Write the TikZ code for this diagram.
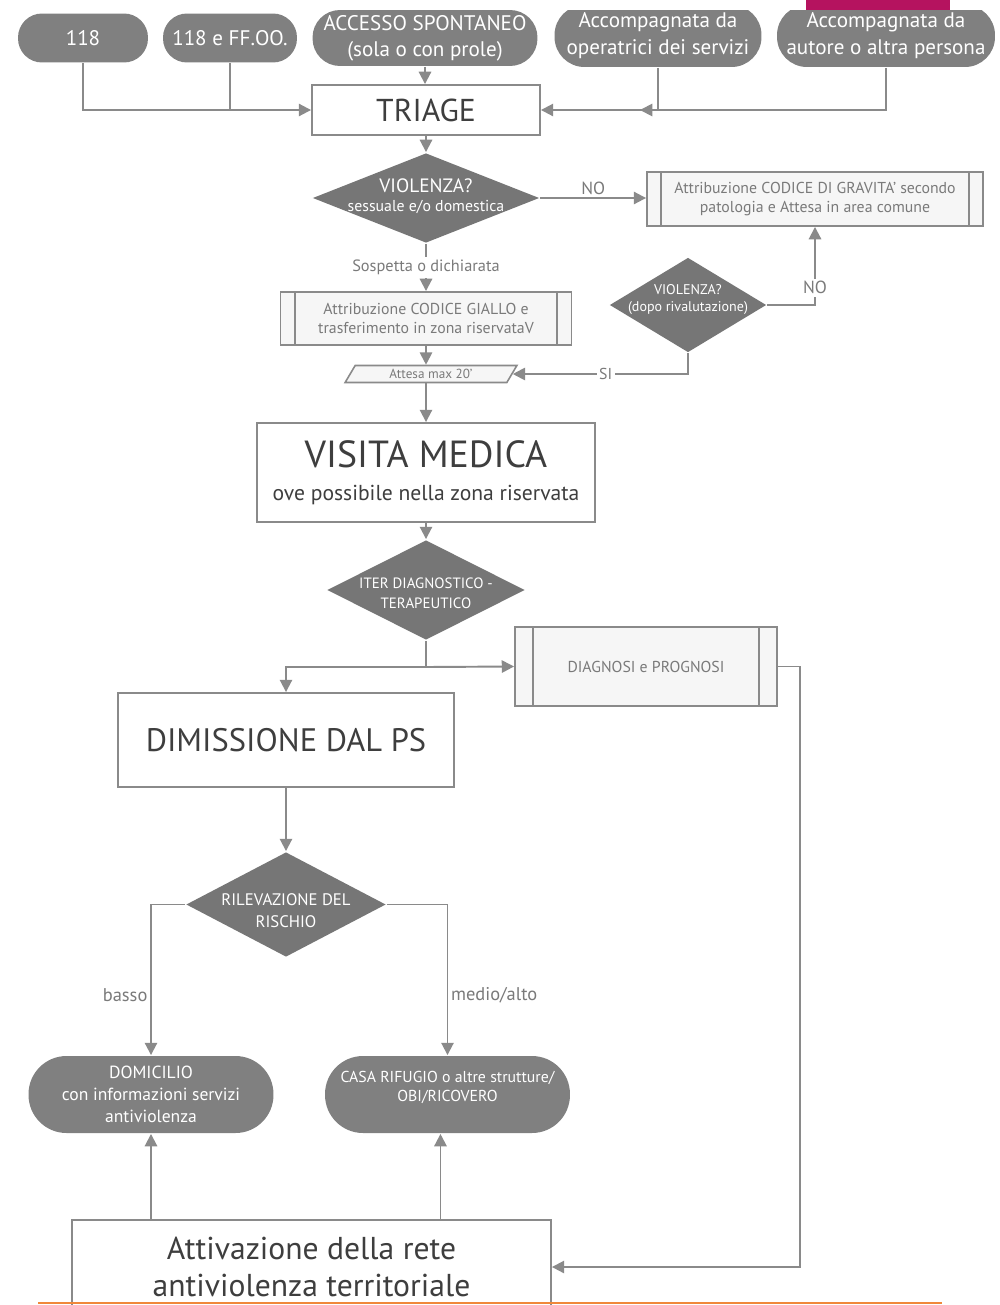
\documentclass[tikz,border=0pt]{standalone}
\usepackage{fontspec}
\setmainfont{PT Sans}
\usetikzlibrary{arrows.meta}
\usetikzlibrary{shapes.geometric}
\definecolor{lineGray}{RGB}{138,138,138}
\definecolor{pillGray}{RGB}{128,128,128}
\definecolor{decGray}{RGB}{118,118,118}
\definecolor{darkText}{RGB}{62,62,62}
\definecolor{softText}{RGB}{122,122,122}
\definecolor{boxFill}{RGB}{246,246,246}
\definecolor{barMagenta}{RGB}{181,19,95}
\definecolor{lineOrange}{RGB}{240,136,58}
\tikzset{every picture/.style={line width=1.1pt, color=lineGray, >={Triangle[length=7pt,width=7pt]}}}
\tikzstyle{block}=[draw=lineGray,fill=white,text=darkText,align=center,inner sep=0pt]
\tikzstyle{decision}=[diamond,fill=decGray,inner sep=0pt]
\tikzstyle{dectext}=[text=white,align=center]
\tikzstyle{lbl}=[text=softText,inner sep=1.5pt]
\tikzstyle{io}=[trapezium,trapezium left angle=60,trapezium right angle=120,trapezium stretches=true,draw=lineGray,line width=0.9pt,fill=boxFill,text=softText,inner sep=0pt]
\tikzset{pill/.style={rectangle,rounded corners=#1,fill=pillGray,text=white,align=center,inner sep=0pt},
  pill/.default=0.48cm}
\tikzset{subproc/.style={draw=lineGray,fill=boxFill,text=softText,align=center,inner sep=0pt,
  path picture={\draw[lineGray] ([xshift=#1]path picture bounding box.north west) -- ([xshift=#1]path picture bounding box.south west)
    ([xshift=-#1]path picture bounding box.north east) -- ([xshift=-#1]path picture bounding box.south east);}},
  subproc/.default=8pt}

\begin{document}
\begin{tikzpicture}[x=0.02cm,y=-0.02cm]
        \fill[white] (0,0) rectangle (1000,1305);
        \path[use as bounding box,clip] (0,0) rectangle (1000,1305);
        \fill[barMagenta] (806,0) rectangle (950,12);

        \node [pill,minimum width=2.6cm,minimum height=0.98cm,font=\fontsize{12}{14}\selectfont] (p118) at (83,38) {118};
        \node [pill,minimum width=2.68cm,minimum height=0.98cm,font=\fontsize{12}{14}\selectfont] (pff) at (230,38) {118 e FF.OO.};
        \node [pill=0.55cm,minimum width=4.5cm,minimum height=1.12cm,font=\fontsize{12}{14.7}\selectfont] (pacc) at (425,38) {ACCESSO SPONTANEO\\(sola o con prole)};
        \begin{scope}
        \clip (0,10) rectangle (1000,80);
        \node [pill=0.6cm,minimum width=4.14cm,minimum height=1.24cm,font=\fontsize{12}{15.3}\selectfont] (pope) at (658,36) {Accompagnata da\\operatrici dei servizi};
        \node [pill=0.6cm,minimum width=4.36cm,minimum height=1.24cm,font=\fontsize{12}{15.3}\selectfont] (paut) at (886,36) {Accompagnata da\\autore o altra persona};
        \end{scope}

        \node [block,minimum width=4.56cm,minimum height=1cm,font=\fontsize{18}{20}\selectfont] (triage) at (426,110) {TRIAGE};
        \node [decision,minimum width=4.54cm,minimum height=1.8cm,
          label={[dectext,yshift=1pt,font=\fontsize{9}{11}\selectfont]center:{{\fontsize{11}{13}\selectfont VIOLENZA?}\\sessuale e/o domestica}}] (viol) at (426,198) {};
        \node [subproc,minimum width=6.72cm,minimum height=1.08cm,font=\fontsize{9}{11.3}\selectfont] (codgrav) at (815,199) {Attribuzione CODICE DI GRAVITA' secondo\\patologia e Attesa in area comune};
        \node [subproc,minimum width=5.82cm,minimum height=1.06cm,font=\fontsize{9}{11.3}\selectfont] (codgiallo) at (426,318.5) {Attribuzione CODICE GIALLO e\\trasferimento in zona riservataV};
        \node [decision,minimum width=3.14cm,minimum height=1.9cm,
          label={[dectext,yshift=3pt,font=\fontsize{8}{10}\selectfont]center:{VIOLENZA?\\(dopo rivalutazione)}}] (viol2) at (688,305) {};
        \node [io,minimum width=3.45cm,minimum height=0.34cm,font=\fontsize{7.5}{9}\selectfont] (attesa) at (431,374) {Attesa max 20'};
        \node [block,minimum width=6.76cm,minimum height=1.98cm,font=\fontsize{12.3}{18.7}\selectfont] (visita) at (426,472.5) {{\fontsize{21.5}{24}\selectfont VISITA MEDICA}\\ove possibile nella zona riservata};
        \node [decision,minimum width=3.96cm,minimum height=2cm,
          label={[dectext,yshift=-2pt,font=\fontsize{8.5}{11.3}\selectfont]center:{ITER DIAGNOSTICO -\\TERAPEUTICO}}] (iter) at (426,590) {};
        \node [subproc=10pt,minimum width=5.24cm,minimum height=1.58cm,font=\fontsize{9}{11}\selectfont] (diag) at (646,666.5) {DIAGNOSI e PROGNOSI};
        \node [block,minimum width=6.72cm,minimum height=1.88cm,font=\fontsize{18.5}{20}\selectfont] (dimiss) at (286,740) {\raisebox{-3pt}{DIMISSIONE DAL PS}};
        \node [decision,minimum width=4cm,minimum height=2.1cm,
          label={[dectext,yshift=-3.5pt,font=\fontsize{9.5}{12.5}\selectfont]center:{RILEVAZIONE DEL\\RISCHIO}}] (risk) at (286,904.5) {};
        \node [pill=0.76cm,minimum width=4.9cm,minimum height=1.54cm,font=\fontsize{10}{12.5}\selectfont] (dom) at (151,1094.5) {DOMICILIO\\con informazioni servizi\\antiviolenza};
        \node [pill=0.76cm,minimum width=4.9cm,minimum height=1.54cm,
          label={[dectext,yshift=4pt,font=\fontsize{9}{10.8}\selectfont]center:{CASA RIFUGIO o altre strutture/\\OBI/RICOVERO}}] (casa) at (447.5,1094.5) {};
        \node [block,minimum width=9.58cm,minimum height=1.88cm,font=\fontsize{18}{21.5}\selectfont] (attiv) at (311.5,1267) {Attivazione della rete\\antiviolenza territoriale};

        \coordinate (jn) at (640,110);
        \coordinate (split) at (426,667);
        \draw [->] (p118.south) |- (triage.west);
        \draw (pff.south) -- (pff.south |- triage.west);
        \draw [->] (pacc.south) -- (pacc.south |- triage.north);
        \draw [->] (pope.south) |- (triage.east);
        \draw [->] (paut.south) |- (jn);
        \draw [->] (triage) -- (viol);
        \draw [->] (viol.east) -- node [lbl,above,font=\fontsize{10}{12}\selectfont] {NO} (viol.east -| codgrav.west);
        \draw [->] (viol) -- node [lbl,fill=white,font=\fontsize{9.3}{11}\selectfont] {Sospetta o dichiarata} (codgiallo);
        \draw [->] (viol2.east) -| node [lbl,pos=0.61,fill=white,font=\fontsize{10}{12}\selectfont] {NO} (codgrav.south);
        \draw [->] (codgiallo.south) -- (codgiallo.south |- attesa.north);
        \draw [->] (viol2.south) |- node [lbl,pos=0.735,fill=white,font=\fontsize{9}{11}\selectfont] {SI} (attesa.east);
        \draw [->] (visita.north |- attesa.south) -- (visita.north);
        \draw [->] (visita) -- (iter);
        \draw (iter.south) -- (split);
        \draw [->] (split) -| (dimiss.north);
        \draw [->] (split) -- (diag.west);
        \draw [->] (diag.east) -- ++(22,0) |- (attiv.east);
        \draw [->] (dimiss) -- (risk);
        \draw [->] (risk.west) -| node [lbl,pos=0.8,left,font=\fontsize{10.5}{12}\selectfont] {basso} (dom.north);
        \draw [->] (risk.east) -| node [lbl,pos=0.8,right,font=\fontsize{10.5}{12}\selectfont] {medio/alto} (casa.north);
        \draw [->] (dom.south |- attiv.north) -- (dom.south);
        \draw [->] ([xshift=-4]casa.south |- attiv.north) -- ([xshift=-4]casa.south);

        \draw [lineOrange,line width=1.4pt] (38,1303) -- (942,1303);
\end{tikzpicture}
\end{document}
